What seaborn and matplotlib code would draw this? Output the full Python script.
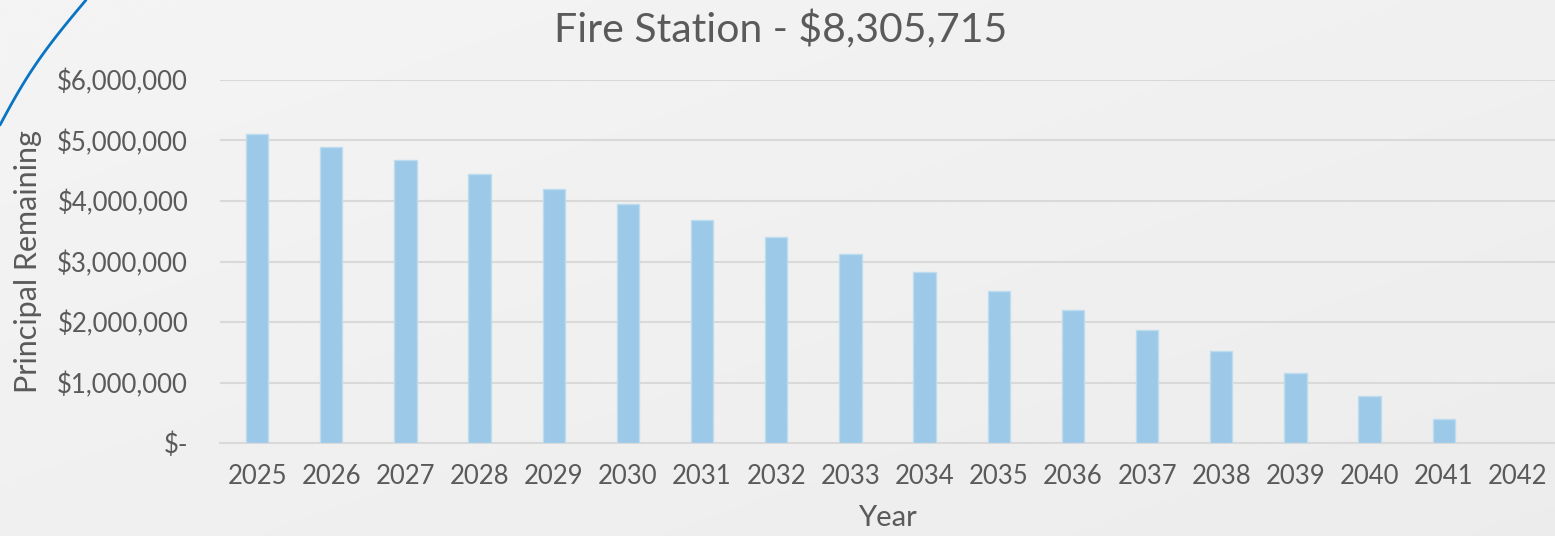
import numpy as np
import pandas as pd
import matplotlib
matplotlib.use("Agg")
import matplotlib.pyplot as plt
import seaborn as sns
from matplotlib.ticker import FuncFormatter
from matplotlib.lines import Line2D

# data
years = [str(y) for y in range(2025, 2043)]
principal = [5110000, 4890000, 4680000, 4450000, 4200000, 3950000, 3690000, 3400000,
             3120000, 2830000, 2510000, 2200000, 1870000, 1520000, 1160000, 780000,
             400000, 0]
title = "Fire Station - $8,305,715"

df = pd.DataFrame({"Year": years, "Principal Remaining": principal})

sns.set_theme(style="white")
plt.rcParams['font.family'] = ['Lato', 'DejaVu Sans']
text_col = '#5a5a5a'

fig = plt.figure(figsize=(15.55, 5.36), dpi=100)

# slide background (light grey gradient)
bg = fig.add_axes([0, 0, 1, 1], zorder=-10)
grad = np.linspace(0, 1, 256)
gx, gy = np.meshgrid(grad, grad)
bg.imshow(0.955 - 0.03 * (gx * 0.5 + gy * 0.5), cmap='gray', vmin=0, vmax=1,
          aspect='auto', extent=[0, 1, 0, 1])
bg.axis('off')

# decorative line in the top-left corner (pixel points of the slide template)
py = np.linspace(0, 125, 40)
px = 86 * (1 - py / 125) - 6 * np.sin(np.pi * py / 125)
fig.add_artist(Line2D(px / 1555, 1 - py / 536, color='#0a74c4', lw=2,
                      transform=fig.transFigure))

ax = fig.add_axes([220 / 1555, 1 - 443 / 536, 1 - 220 / 1555, (443 - 80) / 536])
ax.set_facecolor('none')

sns.barplot(data=df, x="Year", y="Principal Remaining", ax=ax, color='#9dc9e8',
            width=0.3, edgecolor='#bcdcf0', linewidth=1, saturation=1, zorder=3)

ax.set_ylim(0, 6000000)
ax.set_xlim(-0.5, len(years) - 0.5)
ax.set_yticks(np.arange(0, 6000001, 1000000))
ax.yaxis.set_major_formatter(FuncFormatter(lambda v, p: "$-" if v == 0 else f"${v:,.0f}"))
ax.grid(axis='y', color='#d9d9d9', lw=1.5, zorder=0)
for s in ['top', 'right', 'left']:
    ax.spines[s].set_visible(False)
ax.spines['bottom'].set_color('#d9d9d9')
ax.spines['bottom'].set_linewidth(1.5)
ax.tick_params(axis='both', length=0, labelsize=18.5, colors=text_col)
ax.tick_params(axis='y', pad=23)
ax.tick_params(axis='x', pad=15)

ax.set_xlabel("Year", fontsize=21, color=text_col)
ax.set_ylabel("Principal Remaining", fontsize=22, color=text_col)
ax.xaxis.set_label_coords(0.5, -0.207)
ax.yaxis.set_label_coords(-0.1438, 0.5)
ax.xaxis.label.set_va('center')
ax.yaxis.label.set_va('center')
fig.text(0.502, 0.945, title, ha='center', va='center', fontsize=29.5, color=text_col)

fig.savefig("out.png", dpi=100)
